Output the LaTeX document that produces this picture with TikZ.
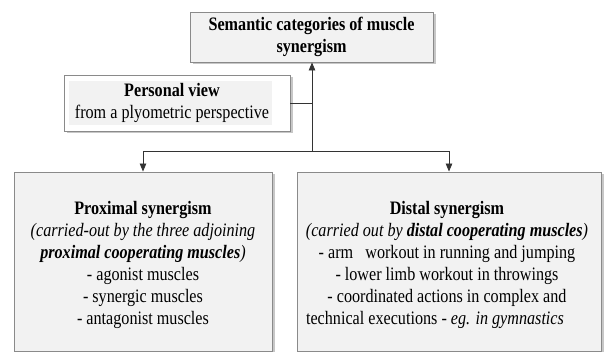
\documentclass[tikz,border=0pt]{standalone}
\usepackage{fontspec}
\setmainfont{Liberation Serif}[FakeStretch=0.85]
\usetikzlibrary{arrows.meta,shadows}
\definecolor{boxfill}{HTML}{F2F2F2}
\definecolor{boxline}{HTML}{8A8A8A}
\tikzset{
  card/.style={draw=boxline, line width=0.9pt, fill=boxfill, inner sep=0pt,
    drop shadow={shadow xshift=2.5pt, shadow yshift=-2.5pt, fill=black!40, opacity=0.55}},
  txt/.style={align=center, inner sep=0pt, font=\fontsize{19}{22}\selectfont},
  conn/.style={draw=black!80, line width=0.8pt},
  arr/.style={conn, -{Triangle[length=8pt,width=6.5pt]}}
}
\begin{document}
\begin{tikzpicture}[x=1pt,y=1pt]
\useasboundingbox (0,0) rectangle (605,352);
% top box
\node[card, minimum width=243pt, minimum height=50pt] (top) at (311.5,315) {};
\node[txt] (toptxt) at (311.5,315.5) {\bfseries Semantic categories of muscle\\\bfseries synergism};
% personal view box
\node[card, fill=white, minimum width=226pt, minimum height=56pt] (pv) at (177,249) {};
\node[fill=boxfill, minimum width=203pt, minimum height=44pt, inner sep=0pt] (pvin) at (170.5,249) {};
\node[txt] (pvtxt) at (172,249.5) {\bfseries Personal view\\from a plyometric perspective};
% left box
\node[card, minimum width=258pt, minimum height=179pt] (left) at (143,90.5) {};
\node[txt] (lefttxt) at (143,87) {\bfseries Proximal synergism\\
  \itshape (carried-out by the three adjoining\\
  \itshape\bfseries proximal cooperating muscles\mdseries)\\
  - agonist muscles\\
  - synergic\ muscles\\
  - antagonist muscles};
% right box
\node[card, minimum width=304pt, minimum height=179pt] (right) at (449,90.5) {};
\node[txt] (righttxt) at (447,87) {\bfseries Distal synergism\\
  \itshape (carried out by \bfseries distal cooperating muscles\mdseries)\\
  - arm\ \ \ workout in running and jumping\\
  - lower limb workout in throwings\\
  - coordinated actions in complex and\\
  technical executions - \itshape eg. in gymnastics\hspace*{24pt}};
% connectors
\coordinate (j) at (312,201);
\draw[arr] (j) -- (j |- top.south);
\draw[conn] (pv.east) -- (pv.east -| j);
\draw[arr] (j) -| (left.north);
\draw[arr] (j) -| (right.north);
\end{tikzpicture}
\end{document}
